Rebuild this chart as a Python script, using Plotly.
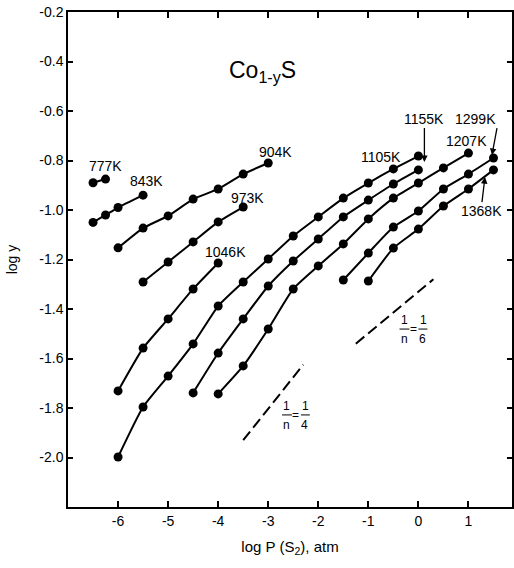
import plotly.graph_objects as go

# ---- data ----
temps = ["777K", "843K", "904K", "973K", "1046K", "1105K", "1155K", "1207K", "1299K", "1368K"]

x_777 = [-6.5, -6.25]
y_777 = [-0.89, -0.875]

x_843 = [-6.5, -6.25, -6.0, -5.5]
y_843 = [-1.05, -1.02, -0.99, -0.94]

x_904 = [-6.0, -5.5, -5.0, -4.5, -4.0, -3.5, -3.0]
y_904 = [-1.153, -1.073, -1.024, -0.956, -0.915, -0.855, -0.810]

x_973 = [-5.5, -5.0, -4.5, -4.0, -3.5]
y_973 = [-1.291, -1.210, -1.129, -1.048, -0.988]

x_1046 = [-6.0, -5.5, -5.0, -4.5, -4.0]
y_1046 = [-1.731, -1.558, -1.440, -1.319, -1.214]

x_1105 = [-6.0, -5.5, -5.0, -4.5, -4.0, -3.5, -3.0, -2.5, -2.0, -1.5, -1.0, -0.5, 0.0]
y_1105 = [-1.998, -1.796, -1.671, -1.541, -1.388, -1.291, -1.198, -1.105, -1.028, -0.952, -0.891, -0.834, -0.782]

x_1155 = [-4.5, -4.0, -3.5, -3.0, -2.5, -2.0, -1.5, -1.0, -0.5, 0.0]
y_1155 = [-1.739, -1.578, -1.440, -1.307, -1.206, -1.117, -1.028, -0.960, -0.895, -0.838]

x_1207 = [-4.0, -3.5, -3.0, -2.5, -2.0, -1.5, -1.0, -0.5, 0.0, 0.5, 1.0]
y_1207 = [-1.743, -1.630, -1.481, -1.319, -1.226, -1.137, -1.036, -0.952, -0.891, -0.830, -0.770]

x_1299 = [-1.5, -1.0, -0.5, 0.0, 0.5, 1.0, 1.5]
y_1299 = [-1.283, -1.174, -1.069, -1.004, -0.915, -0.855, -0.790]

x_1368 = [-1.0, -0.5, 0.0, 0.5, 1.0, 1.5]
y_1368 = [-1.287, -1.154, -1.077, -0.984, -0.915, -0.838]

# slope guide lines
x_quarter = [-3.5, -2.3]
y_quarter = [-1.93, -1.625]
x_sixth = [-1.25, 0.3]
y_sixth = [-1.54, -1.28]

x_ticks = [-6, -5, -4, -3, -2, -1, 0, 1]
x_ticklabels = ["-6", "-5", "-4", "-3", "-2", "-1", "0", "1"]
y_ticks = [-0.2, -0.4, -0.6, -0.8, -1.0, -1.2, -1.4, -1.6, -1.8, -2.0]
y_ticklabels = ["-0.2", "-0.4", "-0.6", "-0.8", "-1.0", "-1.2", "-1.4", "-1.6", "-1.8", "-2.0"]

series = [
    (x_777, y_777), (x_843, y_843), (x_904, y_904), (x_973, y_973), (x_1046, y_1046),
    (x_1105, y_1105), (x_1155, y_1155), (x_1207, y_1207), (x_1299, y_1299), (x_1368, y_1368),
]

FONT = "Liberation Sans"
fig = go.Figure()

for name, (xs, ys) in zip(temps, series):
    fig.add_trace(go.Scatter(
        x=xs, y=ys, name=name, mode="lines+markers",
        line=dict(color="black", width=2, shape="spline", smoothing=0.5),
        marker=dict(color="black", size=9),
        showlegend=False,
    ))

for xs, ys in [(x_quarter, y_quarter), (x_sixth, y_sixth)]:
    fig.add_trace(go.Scatter(
        x=xs, y=ys, mode="lines",
        line=dict(color="black", width=2, dash="11px,5px"),
        showlegend=False,
    ))

annotations = []
LF = dict(family=FONT, size=14, color="black")

def label(text, x, y):
    annotations.append(dict(text=text, x=x, y=y, xref="x", yref="y", showarrow=False, font=LF))

label("777K", -6.245, -0.822)
label("843K", -5.43, -0.883)
label("904K", -2.86, -0.766)
label("973K", -3.42, -0.952)
label("1046K", -3.86, -1.170)
label("1105K", -0.74, -0.786)
label("1207K", 0.955, -0.721)

def arrow_label(text, x, y, ax, ay, xanchor, yanchor):
    annotations.append(dict(text=text, x=x, y=y, xref="x", yref="y", ax=ax, ay=ay,
                            xanchor=xanchor, yanchor=yanchor, font=LF,
                            showarrow=True, arrowhead=2, arrowsize=1, arrowwidth=1.3,
                            arrowcolor="black", borderpad=0))

arrow_label("1155K", 0.12, -0.806, 0, -34, "center", "bottom")
arrow_label("1299K", 1.47, -0.778, 5, -27, "right", "bottom")
arrow_label("1368K", 1.33, -0.867, -3, 25, "center", "top")

# compound title
annotations.append(dict(text="Co<sub>1-y</sub>S",
                        x=-3.12, y=-0.44, xref="x", yref="y",
                        showarrow=False, font=dict(family=FONT, size=23, color="black")))

shapes = []
PX = 1 / 50.28  # one pixel in x data units

def fraction(xc, yc, den):
    f = dict(family=FONT, size=12, color="black")
    base = dict(xref="x", yref="y", x=xc, y=yc, showarrow=False, font=f)
    annotations.append(dict(base, text="=", xshift=0, yshift=0))
    annotations.append(dict(base, text="1", xshift=-9, yshift=9))
    annotations.append(dict(base, text="n", xshift=-9, yshift=-10))
    annotations.append(dict(base, text="1", xshift=10, yshift=9))
    annotations.append(dict(base, text=den, xshift=9, yshift=-10))
    for a, b in [(-14, -4), (5, 14)]:
        shapes.append(dict(type="line", xref="x", yref="y", x0=xc + a * PX, x1=xc + b * PX,
                           y0=yc, y1=yc, line=dict(color="black", width=1)))

fraction(-2.446, -1.828, "4")
fraction(-0.099, -1.481, "6")

fig.update_layout(
    width=514, height=568,
    margin=dict(l=68, r=0, t=12, b=61),
    paper_bgcolor="white", plot_bgcolor="white",
    annotations=annotations, shapes=shapes,
    font=dict(family=FONT, size=14, color="black"),
    showlegend=False,
)
fig.update_xaxes(range=[-7.0, 1.87], tickvals=x_ticks, ticktext=x_ticklabels,
                 ticks="inside", ticklen=6, tickwidth=1.5, tickcolor="black",
                 showline=True, linecolor="black", linewidth=1.5, mirror="ticks",
                 showgrid=False, zeroline=False, tickfont=dict(family=FONT, size=14),
                 title=dict(text="log P (S<sub>2</sub>), atm", standoff=14,
                            font=dict(family=FONT, size=15, color="black")))
fig.update_yaxes(range=[-2.2, -0.2], tickvals=y_ticks, ticktext=y_ticklabels,
                 ticks="inside", ticklen=5, tickwidth=1.5, tickcolor="black",
                 showline=True, linecolor="black", linewidth=1.5, mirror="ticks",
                 showgrid=False, zeroline=False, tickfont=dict(family=FONT, size=14),
                 title=dict(text="log y", standoff=18,
                            font=dict(family=FONT, size=14, color="black")))

fig.write_html("out.html")
